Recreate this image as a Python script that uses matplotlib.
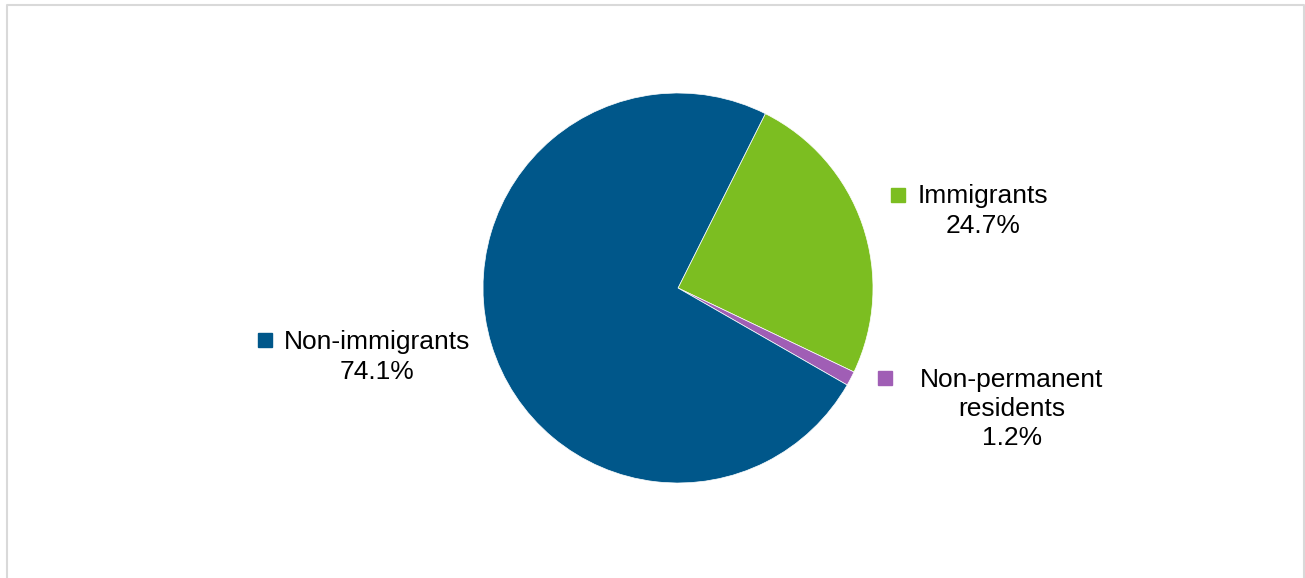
import matplotlib.pyplot as plt
from matplotlib.patches import Rectangle
from matplotlib.lines import Line2D

plt.rcParams['font.family'] = ['Liberation Sans', 'DejaVu Sans']

labels = ['Immigrants', 'Non-permanent\nresidents', 'Non-immigrants']
shares = [24.7, 1.2, 74.1]
colors = ['#7CBE21', '#A05EB5', '#00578A']

W, H = 1305, 578
fig = plt.figure(figsize=(W / 100, H / 100), dpi=100)

# light grey frame (top, left, right; open at the bottom)
fx = [7 / W, 7 / W, 1303.5 / W, 1303.5 / W]
fy = [0, 1 - 5 / H, 1 - 5 / H, 0]
fig.lines.append(Line2D(fx, fy, transform=fig.transFigure, color='#D9D9D9', lw=1.5))

# pie: centre (678, 288) px, radius 195 px
cx, cy, r = 678, 288, 195
ax = fig.add_axes([(cx - r) / W, (H - cy - r) / H, 2 * r / W, 2 * r / H])
ax.pie(shares, colors=colors, startangle=63.4, counterclock=False, radius=1,
       wedgeprops=dict(edgecolor='white', linewidth=0.5))
ax.set_xlim(-1, 1)
ax.set_ylim(-1, 1)
ax.set_aspect('equal')
ax.axis('off')

# labels placed like the original (pixel positions)
label_pos = [(983, 211, 898, 195), (1012, 409, 885, 377.5), (377, 357, 264.5, 340)]
for lab, val, col, (tx, ty, sx, sy) in zip(labels, shares, colors, label_pos):
    fig.text(tx / W, 1 - ty / H, f'{lab}\n{val:.1f}%', ha='center', va='center',
             fontsize=19, linespacing=1.27, color='black')
    fig.patches.append(Rectangle(((sx - 7) / W, 1 - (sy + 7) / H), 14 / W, 14 / H,
                                 transform=fig.transFigure, color=col))

fig.savefig('out.png', dpi=100)
